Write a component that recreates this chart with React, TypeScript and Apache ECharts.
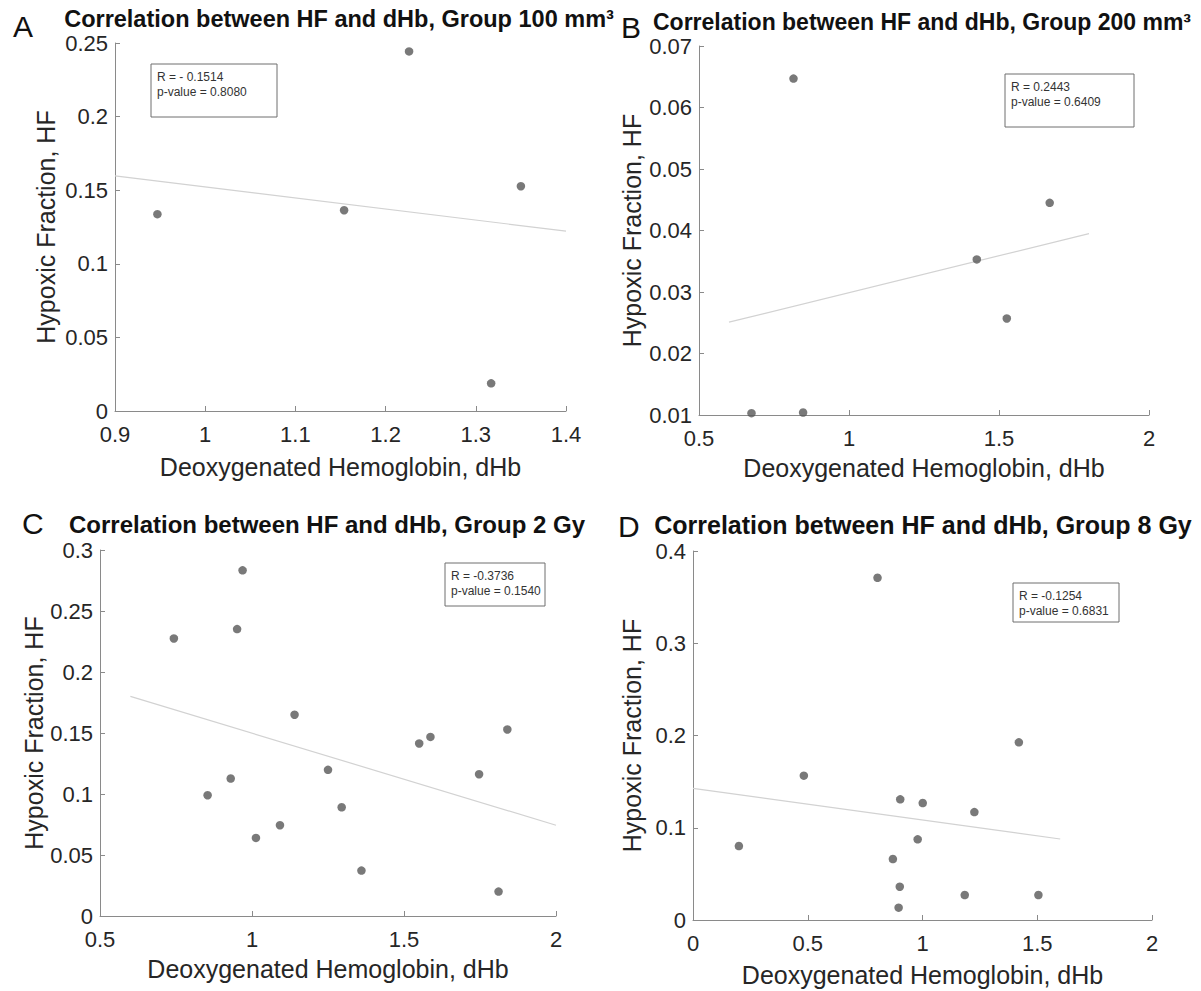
import React, { useEffect, useRef } from "react";
import * as echarts from "echarts";

const FONT = "'Liberation Sans', Arial, Helvetica, sans-serif";

const panelLetters = ["A", "B", "C", "D"];
const panelTitles = [
  "Correlation between HF and dHb, Group 100 mm³",
  "Correlation between HF and dHb, Group 200 mm³",
  "Correlation between HF and dHb, Group 2 Gy",
  "Correlation between HF and dHb, Group 8 Gy",
];
const xAxisTitle = "Deoxygenated Hemoglobin, dHb";
const yAxisTitle = "Hypoxic Fraction, HF";

const statsR = ["R = - 0.1514", "R = 0.2443", "R = -0.3736", "R = -0.1254"];
const statsP = ["p-value = 0.8080", "p-value = 0.6409", "p-value = 0.1540", "p-value = 0.6831"];

// Panel A: Group 100 mm3
const dhbA = [0.947, 1.154, 1.226, 1.317, 1.35];
const hfA = [0.1337, 0.1364, 0.2443, 0.0188, 0.1527];
const fitDhbA = [0.9, 1.4];
const fitHfA = [0.1597, 0.1222];

// Panel B: Group 200 mm3
const dhbB = [0.815, 0.675, 0.847, 1.426, 1.526, 1.669];
const hfB = [0.0647, 0.0103, 0.0104, 0.0353, 0.0257, 0.0445];
const fitDhbB = [0.6, 1.8];
const fitHfB = [0.0251, 0.0395];

// Panel C: Group 2 Gy
const dhbC = [0.743, 0.969, 0.951, 0.854, 0.93, 1.013, 1.092, 1.14, 1.25, 1.295, 1.36, 1.55, 1.587, 1.747, 1.811, 1.84];
const hfC = [0.2275, 0.2833, 0.2352, 0.099, 0.1127, 0.064, 0.0744, 0.165, 0.1198, 0.0891, 0.0372, 0.1414, 0.1468, 0.1162, 0.02, 0.1529];
const fitDhbC = [0.6, 2.0];
const fitHfC = [0.18, 0.0744];

// Panel D: Group 8 Gy
const dhbD = [0.804, 0.2, 0.483, 0.903, 1.001, 1.226, 1.42, 0.979, 0.871, 0.901, 0.896, 1.184, 1.505];
const hfD = [0.371, 0.0802, 0.1565, 0.1308, 0.1268, 0.117, 0.1926, 0.0874, 0.0661, 0.0361, 0.0134, 0.0271, 0.0271];
const fitDhbD = [0.0, 1.6];
const fitHfD = [0.1427, 0.0878];

const xRanges = [
  { min: 0.9, max: 1.4, interval: 0.1 },
  { min: 0.5, max: 2, interval: 0.5 },
  { min: 0.5, max: 2, interval: 0.5 },
  { min: 0, max: 2, interval: 0.5 },
];
const yRanges = [
  { min: 0, max: 0.25, interval: 0.05 },
  { min: 0.01, max: 0.07, interval: 0.01 },
  { min: 0, max: 0.3, interval: 0.05 },
  { min: 0, max: 0.4, interval: 0.1 },
];

const seriesX = [dhbA, dhbB, dhbC, dhbD];
const seriesY = [hfA, hfB, hfC, hfD];
const fitX = [fitDhbA, fitDhbB, fitDhbC, fitDhbD];
const fitY = [fitHfA, fitHfB, fitHfC, fitHfD];

// layout (pixels)
const grids = [
  { left: 115, top: 43, width: 451, height: 368 },
  { left: 699, top: 46, width: 450, height: 369 },
  { left: 100, top: 550, width: 456, height: 366 },
  { left: 693, top: 551, width: 459, height: 369 },
];
const xNameGaps = [43, 40, 40, 42];
const yNameGaps = [57, 55, 52, 49];
const titlePos = [
  { x: 339, y: 19, size: 23.5 },
  { x: 922, y: 22, size: 23 },
  { x: 327, y: 524, size: 24 },
  { x: 923, y: 525, size: 25 },
];
const letterPos = [
  { x: 13, y: 26 },
  { x: 621, y: 27 },
  { x: 22, y: 523 },
  { x: 618, y: 526 },
];
const boxPos = [
  { x: 151, y: 64, w: 126, h: 53 },
  { x: 1005, y: 74, w: 129, h: 53 },
  { x: 445, y: 563, w: 100, h: 43 },
  { x: 1013, y: 583, w: 106, h: 39 },
];

const AXIS_COLOR = "#8a8a8a";
const TEXT_COLOR = "#262626";

export default function App() {
  const ref = useRef<HTMLDivElement>(null);

  useEffect(() => {
    if (!ref.current) return;
    const chart = echarts.init(ref.current, undefined, { renderer: "svg" });

    const xAxes = xRanges.map((r, i) => ({
      type: "value",
      gridIndex: i,
      min: r.min,
      max: r.max,
      interval: r.interval,
      name: xAxisTitle,
      nameLocation: "middle",
      nameGap: xNameGaps[i],
      nameTextStyle: { fontSize: 25, color: TEXT_COLOR, fontFamily: FONT },
      axisLine: { show: true, lineStyle: { color: AXIS_COLOR, width: 1 } },
      axisTick: { show: true, inside: true, length: 5, lineStyle: { color: AXIS_COLOR } },
      axisLabel: { fontSize: 22, color: TEXT_COLOR, fontFamily: FONT, margin: 12 },
      splitLine: { show: false },
    }));
    const yAxes = yRanges.map((r, i) => ({
      type: "value",
      gridIndex: i,
      min: r.min,
      max: r.max,
      interval: r.interval,
      name: yAxisTitle,
      nameLocation: "middle",
      nameGap: yNameGaps[i],
      nameTextStyle: { fontSize: 25, color: TEXT_COLOR, fontFamily: FONT },
      axisLine: { show: true, lineStyle: { color: AXIS_COLOR, width: 1 } },
      axisTick: { show: true, inside: true, length: 5, lineStyle: { color: AXIS_COLOR } },
      axisLabel: { fontSize: 22, color: TEXT_COLOR, fontFamily: FONT, margin: 7 },
      splitLine: { show: false },
    }));

    const series: any[] = [];
    for (let i = 0; i < 4; i++) {
      series.push({
        type: "line",
        xAxisIndex: i,
        yAxisIndex: i,
        data: fitX[i].map((x, k) => [x, fitY[i][k]]),
        showSymbol: false,
        symbol: "none",
        lineStyle: { color: "#d2d2d2", width: 1.2 },
        silent: true,
        z: 1,
      });
      series.push({
        type: "scatter",
        xAxisIndex: i,
        yAxisIndex: i,
        data: seriesX[i].map((x, k) => [x, seriesY[i][k]]),
        symbol: "circle",
        symbolSize: 8.5,
        itemStyle: { color: "#585858" },
        z: 2,
      });
    }

    const graphics: any[] = [];
    for (let i = 0; i < 4; i++) {
      const b = boxPos[i];
      graphics.push({
        type: "rect",
        shape: { x: b.x, y: b.y, width: b.w, height: b.h },
        style: { fill: "#ffffff", stroke: "#6e6e6e", lineWidth: 1 },
        z: 10,
      });
      graphics.push({
        type: "text",
        x: b.x + 6,
        y: b.y + 5,
        style: {
          text: statsR[i] + "\n" + statsP[i],
          fontSize: 12,
          lineHeight: 15,
          fill: "#333333",
          fontFamily: FONT,
        },
        z: 11,
      });
      graphics.push({
        type: "text",
        x: letterPos[i].x,
        y: letterPos[i].y,
        style: {
          text: panelLetters[i],
          fontSize: 30,
          fill: "#111111",
          fontFamily: FONT,
          verticalAlign: "middle",
        },
        z: 11,
      });
      graphics.push({
        type: "text",
        x: titlePos[i].x,
        y: titlePos[i].y,
        style: {
          text: panelTitles[i],
          fontSize: titlePos[i].size,
          lineHeight: 18,
          fontWeight: "bold",
          fill: "#111111",
          fontFamily: FONT,
          align: "center",
          verticalAlign: "middle",
        },
        z: 11,
      });
    }

    chart.setOption({
      animation: false,
      backgroundColor: "#ffffff",
      grid: grids.map((g) => ({ ...g, containLabel: false })),
      xAxis: xAxes,
      yAxis: yAxes,
      series,
      graphic: graphics,
    });

    return () => {
      chart.dispose();
    };
  }, []);

  return (
    <div
      ref={ref}
      style={{ position: "absolute", left: 0, top: 0, width: 1201, height: 991, background: "#fff" }}
    />
  );
}
